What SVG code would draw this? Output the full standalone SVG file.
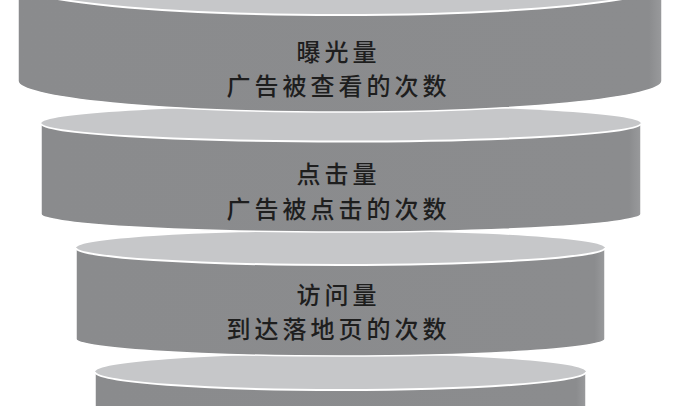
<svg xmlns="http://www.w3.org/2000/svg" width="675" height="406" viewBox="0 0 675 406">
  <defs>
    <linearGradient id="bodyGrad" x1="0" y1="0" x2="1" y2="0">
      <stop offset="0" stop-color="#8a8b8d"/>
      <stop offset="0.98" stop-color="#8b8c8e"/>
      <stop offset="1" stop-color="#999a9c"/>
    </linearGradient>
  </defs>
  <style>
    .body { fill: url(#bodyGrad); stroke: #ffffff; stroke-width: 1.5; }
    .top { fill: #c6c7c9; stroke: none; }
    .rim { fill: none; stroke: #ffffff; stroke-width: 2; }
    .label { font-family: "Noto Sans CJK SC", "Noto Sans", sans-serif; font-size: 24px; font-weight: 500; fill: #1e1e1e; text-anchor: middle; letter-spacing: 4px; }
  </style>
  <rect width="675" height="406" fill="#ffffff"/>

  <g id="cylinder-4">
    <path class="body" d="M95,372 L95,440 A245.5,18 0 0 0 586,440 L586,372 Z"/>
    <ellipse class="top" cx="340.5" cy="372" rx="245.5" ry="18"/>
    <path class="rim" d="M95,372 A245.5,18 0 0 0 586,372"/>
  </g>

  <g id="cylinder-3">
    <path class="body" d="M76,248 L76,339 A264.5,17 0 0 0 605,339 L605,248 Z"/>
    <ellipse class="top" cx="340.5" cy="248" rx="264.5" ry="17"/>
    <path class="rim" d="M76,248 A264.5,17 0 0 0 605,248"/>
    <text class="label" x="338.5" y="304">访问量</text>
    <text class="label" x="338.5" y="337.5">到达落地页的次数</text>
  </g>

  <g id="cylinder-2">
    <path class="body" d="M41,123.5 L41,214 A300,18 0 0 0 641,214 L641,123.5 Z"/>
    <ellipse class="top" cx="341" cy="123.5" rx="300" ry="18"/>
    <path class="rim" d="M41,123.5 A300,18 0 0 0 641,123.5"/>
    <text class="label" x="338.5" y="182.5">点击量</text>
    <text class="label" x="338.5" y="217.5">广告被点击的次数</text>
  </g>

  <g id="cylinder-1">
    <path class="body" d="M18,-16 L18,81 A322,31 0 0 0 662,81 L662,-16 Z"/>
    <ellipse class="top" cx="340" cy="-16" rx="322" ry="31"/>
    <path class="rim" d="M18,-16 A322,31 0 0 0 662,-16"/>
    <text class="label" x="338.5" y="60.5">曝光量</text>
    <text class="label" x="338.5" y="95">广告被查看的次数</text>
  </g>

  <g id="connectors"/>
</svg>
